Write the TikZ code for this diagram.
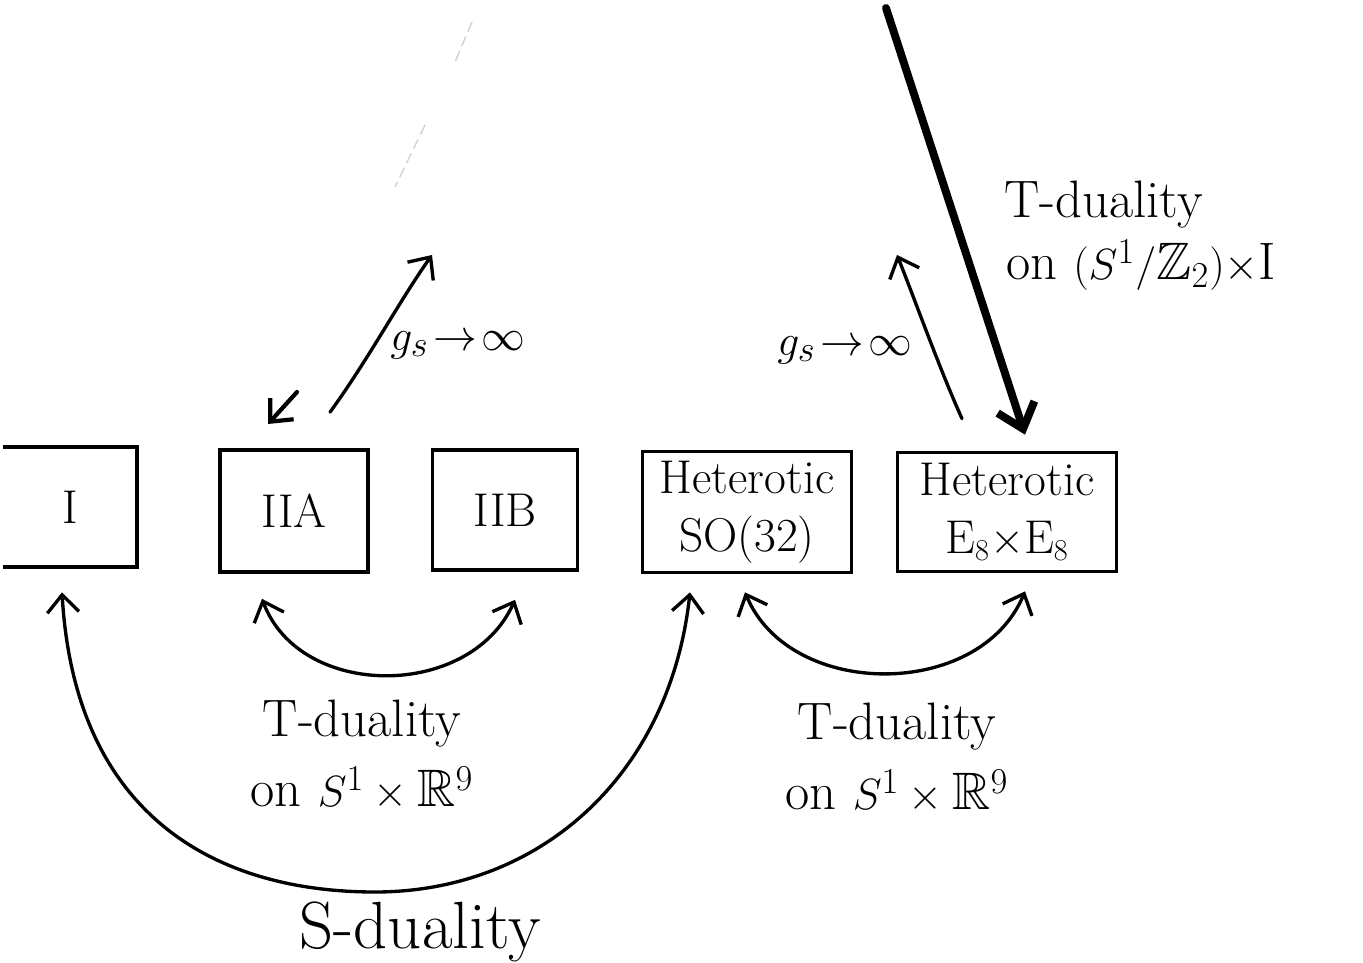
\documentclass[tikz,border=0pt]{standalone}
\usepackage{amssymb}
\usetikzlibrary{arrows.meta,calc}
\begin{document}
\begin{tikzpicture}[x=0.02cm,y=-0.02cm,
  box/.style={draw,line width=2.1pt,inner sep=0pt,align=center,font=\fontsize{27}{33}\selectfont},
  barb/.tip={Straight Barb[length=10pt,width=18pt]},
  conn/.style={line width=1.9pt,line cap=round,-barb},
  both/.style={line width=1.9pt,line cap=round,barb-barb},
  lab/.style={align=center,font=\fontsize{30}{40}\selectfont},
  glab/.style={font=\fontsize{28}{34}\selectfont},
  faint/.style={gray!35,line width=0.8pt,dash pattern=on 6pt off 3pt}]
\useasboundingbox (0,0) rectangle (1363,963);
\fill[white] (0,0) rectangle (1363,963);

% boxes
\node[box,draw=none,minimum width=2.6cm,minimum height=2.34cm] (I) at (70,507) {I};
\draw[line width=2.1pt] (I.north west) -- (I.north east) -- (I.south east) -- (I.south west);
\node[box,minimum width=2.96cm,minimum height=2.44cm] (IIA) at (294,511) {IIA};
\node[box,minimum width=2.9cm,minimum height=2.4cm] (IIB) at (505,510) {IIB};
\node[box,minimum width=4.18cm,minimum height=2.42cm] (SO) at (747,512) {Heterotic\\SO(32)};
\node[box,minimum width=4.38cm,minimum height=2.38cm] (E8) at (1007,512) {Heterotic\\E$_8\times$E$_8$};

% free ends
\coordinate (gA) at (432,255);
\coordinate (gE) at (897,255);
\coordinate (tTop) at (886,8);
\coordinate (sA) at (297,392);
\coordinate (sAe) at (268,424);

% g_s arrows
\draw[conn] ($(IIA.north)+(36,-36)$) .. controls (368,360) and (400,300) .. (gA);
\draw[conn] ($(E8.north)+(-45,-32)$) .. controls (940,370) and (915,300) .. (gE);
\draw[conn,line width=2.4pt] (sA) -- (sAe);
\node[glab] (g1) at (458,345) {$g_s\!\to\!\infty$};
\node[glab] (g2) at (845,350) {$g_s\!\to\!\infty$};

% thick T-duality arrow
\draw[line width=4.5pt,line cap=round,-{Straight Barb[length=13pt,width=22pt]}] (tTop) -- ($(E8.north)+(18,-16)$);
\node[lab,anchor=west] (t3a) at (998,205) {T-duality};
\node[lab,anchor=west] (t3b) at (1000,265) {on $(S^1/\mathbb{Z}_2)\times$I};

% T-duality arcs
\draw[both] ($(IIA.south)+(-32,25)$) .. controls (300,700) and (470,700) .. ($(IIB.south)+(10,28)$);
\node[lab] (t1) at (362,755) {T-duality\\on $S^1\times\mathbb{R}^9$};
\draw[both] ($(SO.south)+(-2,18)$) .. controls (790,700) and (980,700) .. ($(E8.south)+(18,18)$);
\node[lab] (t2) at (897,758) {T-duality\\on $S^1\times\mathbb{R}^9$};

% S-duality arc
\draw[both] ($(I.south)+(-8,25)$) .. controls (75,815) and (215,892) .. (375,892)
  .. controls (540,892) and (670,775) .. ($(SO.south)+(-57,18)$);
\node[font=\fontsize{38}{44}\selectfont] (sd) at (420,932) {S-duality};

% faint erased marks
\draw[faint] (472,22) -- (455,62);
\draw[faint] (425,125) -- (395,187);
\end{tikzpicture}
\end{document}
